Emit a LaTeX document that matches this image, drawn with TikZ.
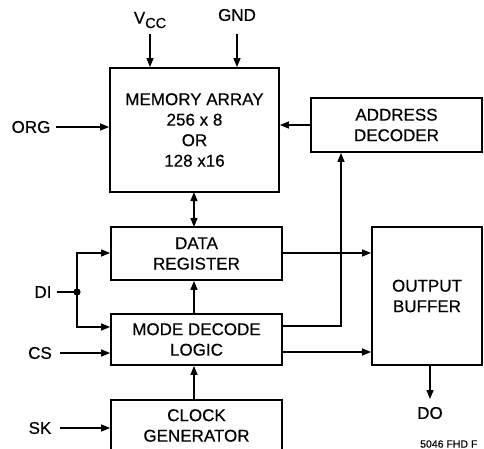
\documentclass[tikz,border=0pt]{standalone}
\usepackage{fontspec}
\setmainfont{Liberation Sans}[FakeBold=0.4]
\usetikzlibrary{arrows.meta}
\begin{document}
\begin{tikzpicture}[x=1pt,y=-1pt,
  blk/.style={draw,line width=1.8pt,rectangle,inner sep=0pt,align=center,
    font=\fontsize{17}{20.5}\selectfont},
  lbl/.style={inner sep=0pt,font=\fontsize{17}{18}\selectfont},
  conn/.style={line width=1.2pt,-{Triangle[length=9pt,width=7pt]}},
  line/.style={line width=1.2pt}]
\useasboundingbox (0,0) rectangle (484,449);
\clip (0,0) rectangle (484,449);
% blocks
\node[blk,minimum width=169pt,minimum height=124pt] (mem) at (194.5,130) {MEMORY ARRAY\\256 x 8\\OR\\128 x16};
\node[blk,minimum width=171pt,minimum height=54pt] (addr) at (396.5,125) {ADDRESS\\DECODER};
\node[blk,minimum width=171pt,minimum height=53pt] (dreg) at (196.5,253.5) {DATA\\REGISTER};
\node[blk,minimum width=171pt,minimum height=51pt] (mode) at (196.5,339.5) {MODE DECODE\\LOGIC};
\node[blk,minimum width=110pt,minimum height=138pt] (out) at (427,296) {OUTPUT\\BUFFER};
\node[blk,minimum width=171pt,minimum height=51pt] (clk) at (196.5,425.5) {CLOCK\\GENERATOR};
% labels
\node[lbl] (vcc) at (150,20) {V\raisebox{-4.5pt}{\fontsize{14.5}{15}\selectfont CC}};
\node[lbl] (gnd) at (237,15) {GND};
\node[lbl] (org) at (31,127) {ORG};
\node[lbl] (di) at (43,292) {DI};
\node[lbl] (cs) at (40,353) {CS};
\node[lbl] (sk) at (40,428) {SK};
\node[lbl] (do) at (430,413) {DO};
\node[inner sep=0pt,anchor=west,font=\fontsize{10.5}{11}\selectfont] (ref) at (420,444) {5046 FHD F};
% coordinates
\coordinate (vccs) at (150,34);
\coordinate (gnds) at (237,34);
\coordinate (dot) at (77,292);
\coordinate (doe) at (430,399);
% connectors
\draw[conn] (vccs) -- (vccs |- mem.north);
\draw[conn] (gnds) -- (gnds |- mem.north);
\draw[conn] (org.east) ++(5,0) -- (mem.west |- org);
\draw[conn] (addr.west) -- (mem.east |- addr.west);
\draw[line width=1.2pt,{Triangle[length=9pt,width=7pt]}-{Triangle[length=9pt,width=7pt]}] (194,192) -- (194,227);
\draw[conn] (mode.north -| 194,0) -- (dreg.south -| 194,0);
\draw[conn] (clk.north -| 194,0) -- (mode.south -| 194,0);
\draw[conn] (dreg.east |- 0,253) -- (out.west |- 0,253);
\draw[conn] (mode.east |- 0,352) -- (out.west |- 0,352);
\draw[conn] (mode.east |- 0,326) -| (addr.south -| 341,0);
\draw[line] (di.east) ++(5,0) -- (dot);
\fill (dot) circle (3.6pt);
\draw[conn] (dot) |- (dreg.west |- 0,253);
\draw[conn] (dot) |- (mode.west |- 0,327);
\draw[conn] (cs.east) ++(8,0) -- (mode.west |- cs);
\draw[conn] (sk.east) ++(8,0) -- (clk.west |- sk);
\draw[conn] (out.south -| doe) -- (doe);
\end{tikzpicture}
\end{document}
